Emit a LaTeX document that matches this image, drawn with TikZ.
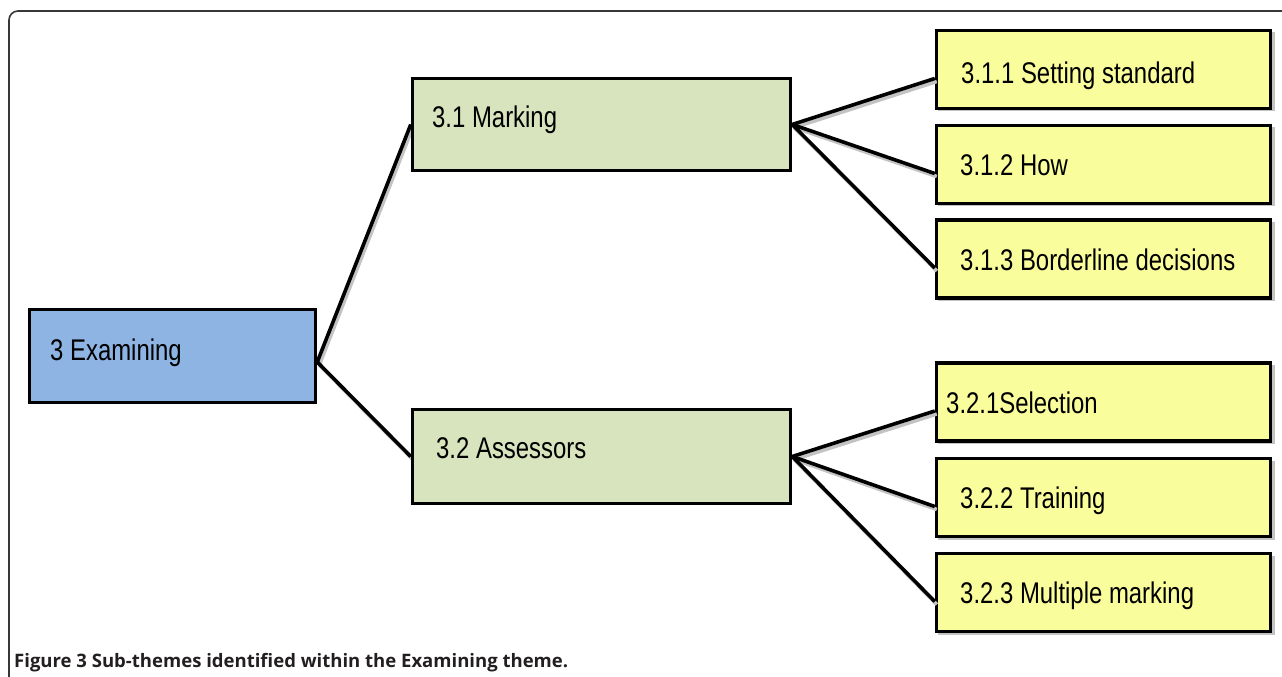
\documentclass[tikz,border=0pt]{standalone}
\usepackage{fontspec}
\setmainfont{Liberation Sans}
\newfontfamily\boxfont[FakeStretch=0.8]{Liberation Sans}
\newfontfamily\capfont{Open Sans}
\usetikzlibrary{calc}
\definecolor{bluebox}{RGB}{142,180,227}
\definecolor{greenbox}{RGB}{215,228,189}
\definecolor{yellowbox}{RGB}{250,253,155}
\definecolor{framegray}{RGB}{55,55,55}
\definecolor{captext}{RGB}{35,31,32}
\definecolor{shadowgray}{RGB}{195,195,195}
\begin{document}
\begin{tikzpicture}[x=1bp,y=-1bp,
  box/.style={draw=black, line width=3.5bp, rectangle, inner sep=0pt},
  btext/.style={anchor=base west, inner sep=0pt, font=\boxfont\fontsize{30}{34}\selectfont},
  conn/.style={line width=3.6bp, black},
  connshadow/.style={line width=3.6bp, shadowgray},
  frame/.style={draw=framegray, line width=1.6bp, rounded corners=9bp}
]
\useasboundingbox (0,0) rectangle (1282,677);
\clip (0,0) rectangle (1282,677);
% frame
\draw[frame] (9,720) -- (9,11) -- (1330,11);

% boxes
\node[box, fill=bluebox, minimum width=286bp, minimum height=93bp] (exam) at (172.5,356) {};
\node[box, fill=greenbox, minimum width=378bp, minimum height=92bp] (mark) at (601.5,124.5) {};
\node[box, fill=greenbox, minimum width=378bp, minimum height=94bp] (assess) at (601.5,456.5) {};
\foreach \n/\cy in {y1/69.5, y2/164.5, y3/259, y4/402, y5/497.5, y6/592.5}{
  \fill[shadowgray] (937.5,\cy-37) rectangle (1275,\cy+42);
  \node[box, fill=yellowbox, minimum width=334bp, minimum height=78bp] (\n) at (1103.5,\cy) {};
}

% connectors (shadow, then line)
\coordinate (es) at ($(exam.east)+(0,6)$);
\draw[connshadow] ($(es)+(2,3)$) -- ($(mark.west)+(2,3)$);
\draw[connshadow] ($(es)+(2,3)$) -- ($(assess.west)+(2,3)$);
\foreach \t in {y1,y2,y3}{
  \draw[connshadow] ($(mark.east)+(2,3)$) -- ($(\t.west)+(2,12)$);
}
\foreach \t in {y4,y5,y6}{
  \draw[connshadow] ($(assess.east)+(2,3)$) -- ($(\t.west)+(2,12)$);
}
\draw[conn] (es) -- (mark.west);
\draw[conn] (es) -- (assess.west);
\foreach \t in {y1,y2,y3}{
  \draw[conn] (mark.east) -- ($(\t.west)+(0,9)$);
}
\foreach \t in {y4,y5,y6}{
  \draw[conn] (assess.east) -- ($(\t.west)+(0,9)$);
}

% boxes drawn again over the connector ends
\node[box, fill=bluebox, minimum width=286bp, minimum height=93bp] (examtop) at (exam) {};
\node[box, fill=greenbox, minimum width=378bp, minimum height=92bp] (marktop) at (mark) {};
\node[box, fill=greenbox, minimum width=378bp, minimum height=94bp] (assesstop) at (assess) {};

% texts
\node[btext] (texam) at (50,360) {3 Examining};
\node[btext] (tmark) at (432,128) {3.1 Marking};
\node[btext] (tassess) at (436,458) {3.2 Assessors};
\node[btext] (t1) at (961,84) {3.1.1 Setting standard};
\node[btext] (t2) at (960,176) {3.1.2 How};
\node[btext] (t3) at (960,270) {3.1.3 Borderline decisions};
\node[btext] (t4) at (946,413) {3.2.1Selection};
\node[btext] (t5) at (960,508) {3.2.2 Training};
\node[btext] (t6) at (960,603) {3.2.3 Multiple marking};

% caption
\node[anchor=base west, inner sep=0pt, text=captext, font=\capfont\bfseries\fontsize{18.6}{21}\selectfont] (cap) at (14,667) {Figure 3 Sub-themes identified within the Examining theme.};
\end{tikzpicture}
\end{document}
